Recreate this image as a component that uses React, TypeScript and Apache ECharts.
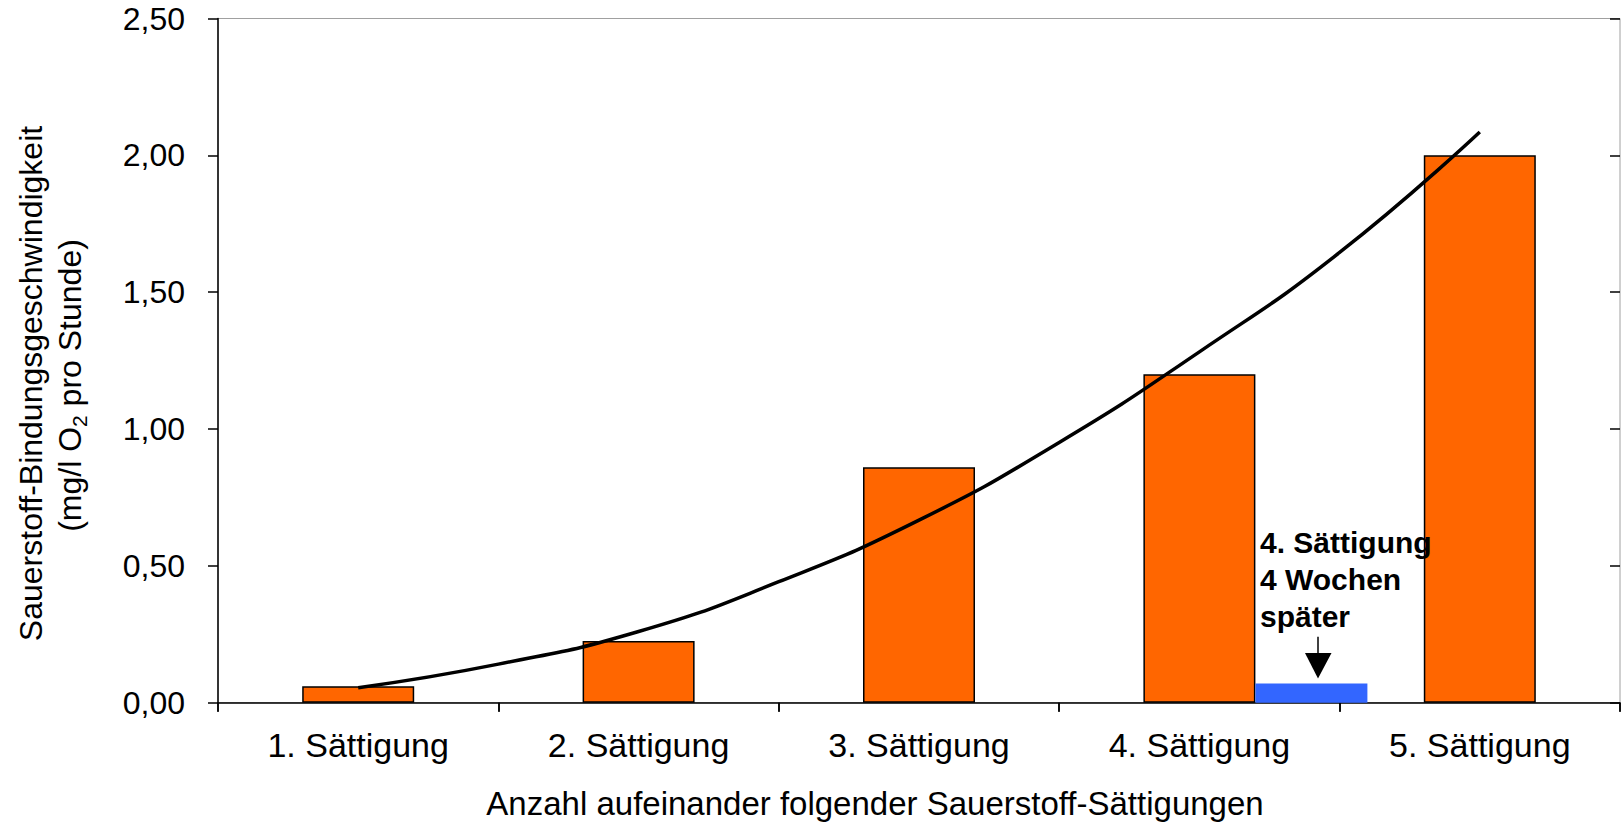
import React, { useEffect, useRef } from "react";
import * as echarts from "echarts";

const categories = ["1. Sättigung", "2. Sättigung", "3. Sättigung", "4. Sättigung", "5. Sättigung"];
const rateValues = [0.06, 0.225, 0.86, 1.2, 2.0];
const laterValues: (number | string)[] = ["-", "-", "-", 0.07, "-"];
const trendX = [1, 1.5, 2, 2.5, 3, 3.5, 4, 4.5, 5];
const trendY = [0.055, 0.141, 0.26, 0.442, 0.667, 0.951, 1.282, 1.645, 2.085];
const yMin = 0;
const yMax = 2.5;
const yInterval = 0.5;
const xTitle = "Anzahl aufeinander folgender Sauerstoff-Sättigungen";
const yTitle1 = "Sauerstoff-Bindungsgeschwindigkeit";
const annotationLines = ["4. Sättigung", "4 Wochen", "später"];

const FONT = "'Liberation Sans', Arial, sans-serif";

export default function App() {
  const ref = useRef<HTMLDivElement>(null);

  useEffect(() => {
    if (!ref.current) return;
    const chart = echarts.init(ref.current, undefined, { renderer: "svg" });
    const fmt = (v: number) => v.toFixed(2).replace(".", ",");
    const option: any = {
      animation: false,
      backgroundColor: "#ffffff",
      textStyle: { fontFamily: FONT },
      grid: {
        left: 218,
        right: 1,
        top: 18.5,
        bottom: 119.3,
        show: true,
        borderColor: "#a0a0a0",
        borderWidth: 1,
        backgroundColor: "transparent",
      },
      xAxis: [
        {
          type: "category",
          data: categories,
          boundaryGap: true,
          axisLine: { show: true, lineStyle: { color: "#000", width: 1.5 } },
          axisTick: { show: true, inside: false, length: 9, lineStyle: { color: "#000", width: 1.5 } },
          axisLabel: { color: "#000", fontSize: 34, fontFamily: FONT, margin: 25, lineHeight: 34 },
          splitLine: { show: false },
        },
        {
          type: "category",
          data: categories,
          boundaryGap: true,
          axisLine: { show: false },
          axisTick: { show: true, inside: true, length: 9, lineStyle: { color: "#000", width: 1.5 } },
          axisLabel: { show: false },
          splitLine: { show: false },
        },
        {
          type: "value",
          min: 0.5,
          max: 5.5,
          show: false,
          splitLine: { show: false },
        },
      ],
      yAxis: [
        {
          type: "value",
          min: yMin,
          max: yMax,
          interval: yInterval,
          axisLine: { show: true, lineStyle: { color: "#000", width: 1.5 } },
          axisTick: { show: true, inside: false, length: 10, lineStyle: { color: "#000", width: 1.5 } },
          axisLabel: { color: "#000", fontSize: 32, fontFamily: FONT, margin: 33, formatter: fmt },
          splitLine: { show: false },
        },
        {
          type: "value",
          min: yMin,
          max: yMax,
          interval: yInterval,
          axisLine: { show: false },
          axisTick: { show: true, inside: true, length: 10, lineStyle: { color: "#000", width: 1.5 } },
          axisLabel: { show: false },
          splitLine: { show: false },
        },
      ],
      series: [
        {
          name: "ghost",
          type: "bar",
          xAxisIndex: 0,
          yAxisIndex: 0,
          data: categories.map(() => "-"),
          barWidth: 112,
          barGap: "0%",
          itemStyle: { color: "transparent" },
          silent: true,
        },
        {
          name: "Sättigung",
          type: "bar",
          xAxisIndex: 0,
          yAxisIndex: 0,
          data: rateValues,
          barWidth: 112,
          barGap: "0%",
          itemStyle: { color: "#FF6600", borderColor: "#000", borderWidth: 1.5 },
        },
        {
          name: "4 Wochen später",
          type: "bar",
          xAxisIndex: 0,
          yAxisIndex: 0,
          data: laterValues,
          barWidth: 112,
          barGap: "0%",
          itemStyle: { color: "#3366FF" },
        },
        {
          name: "Trend",
          type: "line",
          xAxisIndex: 2,
          yAxisIndex: 0,
          data: trendX.map((x, i) => [x, trendY[i]]),
          smooth: true,
          showSymbol: false,
          symbol: "none",
          lineStyle: { color: "#000", width: 3.5 },
          z: 5,
        },
      ],
      graphic: [
        {
          type: "text",
          x: 31,
          y: 383.5,
          rotation: Math.PI / 2,
          style: {
            text: yTitle1,
            fill: "#000",
            font: `32px ${FONT}`,
            align: "center",
            verticalAlign: "middle",
          },
        },
        {
          type: "text",
          x: 70,
          y: 385.5,
          rotation: Math.PI / 2,
          style: {
            text: "{n|(mg/l O}{s|2}{n| pro Stunde)}",
            fill: "#000",
            align: "center",
            verticalAlign: "middle",
            rich: {
              n: { fontSize: 32, fontFamily: FONT, lineHeight: 40, fill: "#000" },
              s: { fontSize: 21, fontFamily: FONT, lineHeight: 21, verticalAlign: "bottom", fill: "#000" },
            },
          },
        },
        {
          type: "text",
          x: 875,
          y: 803,
          style: {
            text: xTitle,
            fill: "#000",
            font: `33px ${FONT}`,
            align: "center",
            verticalAlign: "middle",
          },
        },
        {
          type: "text",
          x: 1260,
          y: 524,
          z: 100,
          style: {
            text: annotationLines.join("\n"),
            fill: "#000",
            font: `bold 30px ${FONT}`,
            lineHeight: 37,
            align: "left",
            verticalAlign: "top",
          },
        },
        {
          type: "line",
          z: 100,
          shape: { x1: 1318, y1: 636.7, x2: 1318, y2: 656 },
          style: { stroke: "#000", lineWidth: 1.5 },
        },
        {
          type: "polygon",
          z: 100,
          shape: { points: [[1305, 653], [1331.5, 653], [1318, 678.5]] },
          style: { fill: "#000" },
        },
      ],
    };
    chart.setOption(option);
    return () => chart.dispose();
  }, []);

  return (
    <div
      ref={ref}
      style={{ position: "fixed", left: 0, top: 0, width: 1621, height: 822, background: "#fff" }}
    />
  );
}
